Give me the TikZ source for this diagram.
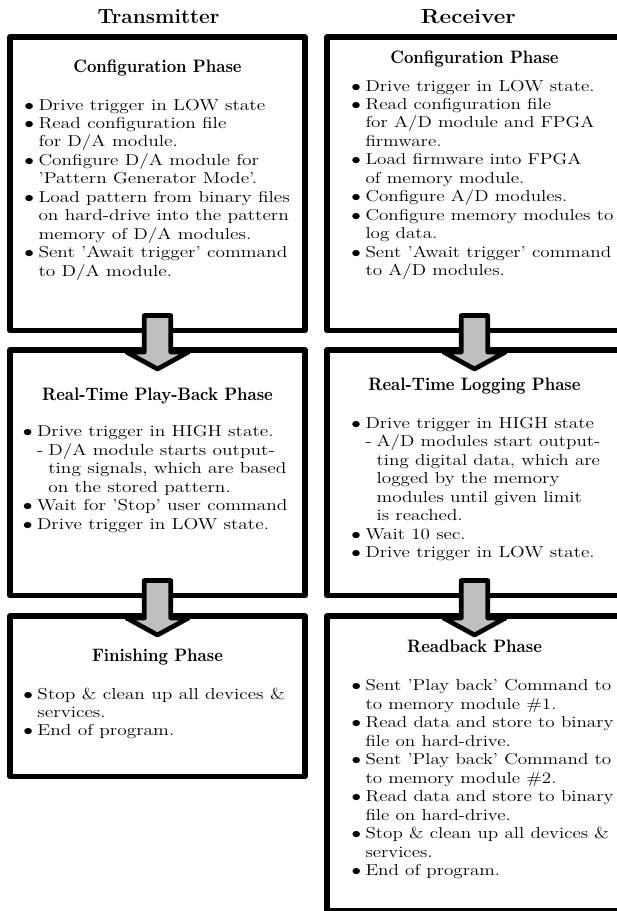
\documentclass[tikz,border=0pt]{standalone}
\usetikzlibrary{calc}

% text is set wide: horizontal and vertical scale differ
\newcommand{\wide}[2]{\scalebox{#1}[1.32]{#2}}
\newcommand{\itm}{\llap{$\bullet$\hspace{2.8pt}}}
\newcommand{\subitm}{\makebox[7pt][l]{-}}
\newcommand{\subind}{\hspace*{7pt}}
\newcommand{\steplist}[2][1.615]{\wide{#1}{\large\begin{tabular}[t]{@{}l@{}}#2\end{tabular}}}
\newcommand{\phasetitle}[1]{\scalebox{1.64}[1.80]{\normalsize\bfseries #1}}
\newcommand{\sidetitle}[2]{\scalebox{#1}[1.70]{\large\bfseries #2}}

% block arrow from the bottom of one phase box into the next one
\newcommand{\phasearrow}[2]{%
  \draw[flowarrow]
    ($(#1.south)+(-13.25,-15)$) -- ($(#1.south)+(13.25,-15)$)
    -- ($(#2.north)+(13.25,2)$) -- ($(#2.north)+(31,2)$)
    -- ($(#2.north)+(0,19)$)
    -- ($(#2.north)+(-31,2)$) -- ($(#2.north)+(-13.25,2)$) -- cycle;}

\tikzset{
  phasebox/.style={draw=black, fill=white, rectangle, line width=5.5pt,
    line join=round, minimum width=295pt, inner sep=0pt, outer sep=0pt},
  flowarrow/.style={draw=black, fill=black!25, line width=4.7pt, line join=round},
  txt/.style={inner sep=0pt, outer sep=0pt},
}

\begin{document}
\begin{tikzpicture}[x=1pt,y=-1pt]
\useasboundingbox (0,0) rectangle (617,911);

% column headings
\node[txt, anchor=base] (hTx) at (158.5,23.3) {\sidetitle{1.73}{Transmitter}};
\node[txt, anchor=base] (hRx) at (468.3,23.3) {\sidetitle{1.88}{Receiver}};

% phase boxes
\node[phasebox, minimum height=293.5pt] (L1) at (157.5,183.75) {};
\node[phasebox, minimum height=245.5pt] (L2) at (157.5,472.75) {};
\node[phasebox, minimum height=160.5pt] (L3) at (157.5,696.25) {};
\node[phasebox, minimum height=293.5pt] (R1) at (474.5,183.75) {};
\node[phasebox, minimum height=245.5pt] (R2) at (474.5,472.75) {};
\node[phasebox, minimum height=294.5pt] (R3) at (474.5,763.25) {};

% arrows between phases
\phasearrow{L1}{L2}
\phasearrow{L2}{L3}
\phasearrow{R1}{R2}
\phasearrow{R2}{R3}

% transmitter texts
\node[txt, anchor=base] (L1t) at (157.5,72.7) {\phasetitle{Configuration Phase}};
\node[txt, anchor=base west] (L1l) at (38.5,110) {\steplist{%
\itm Drive trigger in LOW state\\
\itm Read configuration file\\
for D/A module.\\
\itm Configure D/A module for\\
'Pattern Generator Mode'.\\
\itm Load pattern from binary files\\
on hard-drive into the pattern\\
memory of D/A modules.\\
\itm Sent 'Await trigger' command\\
to D/A module.}};

\node[txt, anchor=base] (L2t) at (157.5,400) {\phasetitle{Real-Time Play-Back Phase}};
\node[txt, anchor=base west] (L2l) at (37,436.7) {\steplist{%
\itm Drive trigger in HIGH state.\\
\subitm D/A module starts output-\\
\subind ting signals, which are based\\
\subind on the stored pattern.\\
\itm Wait for 'Stop' user command\\
\itm Drive trigger in LOW state.}};

\node[txt, anchor=base] (L3t) at (157.5,661.7) {\phasetitle{Finishing Phase}};
\node[txt, anchor=base west] (L3l) at (37.5,699) {\steplist{%
\itm Stop \& clean up all devices \&\\
services.\\
\itm End of program.}};

% receiver texts
\node[txt, anchor=base] (R1t) at (474.5,63.3) {\phasetitle{Configuration Phase}};
\node[txt, anchor=base west] (R1l) at (365.5,91) {\steplist[1.595]{%
\itm Drive trigger in LOW state.\\
\itm Read configuration file\\
for A/D module and FPGA\\
firmware.\\
\itm Load firmware into FPGA\\
of memory module.\\
\itm Configure A/D modules.\\
\itm Configure memory modules to\\
log data.\\
\itm Sent 'Await trigger' command\\
to A/D modules.}};

\node[txt, anchor=base] (R2t) at (474.5,390.7) {\phasetitle{Real-Time Logging Phase}};
\node[txt, anchor=base west] (R2l) at (365.5,428.3) {\steplist[1.595]{%
\itm Drive trigger in HIGH state\\
\subitm A/D modules start output-\\
\subind ting digital data, which are\\
\subind logged by the memory\\
\subind modules until given limit\\
\subind is reached.\\
\itm Wait 10 sec.\\
\itm Drive trigger in LOW state.}};

\node[txt, anchor=base] (R3t) at (474.5,652.7) {\phasetitle{Readback Phase}};
\node[txt, anchor=base west] (R3l) at (365.5,690.7) {\steplist[1.59]{%
\itm Sent 'Play back' Command to\\
to memory module \#1.\\
\itm Read data and store to binary\\
file on hard-drive.\\
\itm Sent 'Play back' Command to\\
to memory module \#2.\\
\itm Read data and store to binary\\
file on hard-drive.\\
\itm Stop \& clean up all devices \&\\
services.\\
\itm End of program.}};
\end{tikzpicture}
\end{document}
